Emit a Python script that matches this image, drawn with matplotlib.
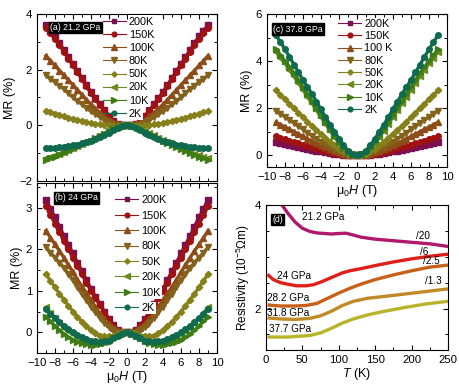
import matplotlib
matplotlib.use("Agg")
import matplotlib.pyplot as plt
from matplotlib.lines import Line2D
from matplotlib.ticker import MultipleLocator

plt.rcParams['font.family'] = ['Liberation Sans', 'DejaVu Sans']
plt.rcParams['mathtext.fontset'] = 'custom'
plt.rcParams['mathtext.rm'] = 'Liberation Sans'
plt.rcParams['mathtext.it'] = 'Liberation Sans:italic'
plt.rcParams['mathtext.default'] = 'regular'

# ---------------- data ----------------
H = [-9, -8.5, -8, -7.5, -7, -6.5, -6, -5.5, -5, -4.5, -4, -3.5, -3, -2.5, -2, -1.5, -1, -0.5, 0,
     0.5, 1, 1.5, 2, 2.5, 3, 3.5, 4, 4.5, 5, 5.5, 6, 6.5, 7, 7.5, 8, 8.5, 9]
temps = ['200K', '150K', '100K', '80K', '50K', '20K', '10K', '2K']
temps_c = ['200K', '150K', '100 K', '80K', '50K', '20K', '10K', '2K']
colors = ['#7a1050', '#a01212', '#8e4c18', '#84621c', '#86801a', '#6c8a22', '#3e7c14', '#0f6a4e']
markers = ['s', 'o', '^', 'v', 'D', '<', '>', 'o']
msizes = [3.8, 4.0, 4.4, 4.4, 3.2, 4.4, 4.4, 4.0]

# (a) 21.2 GPa
mr_a_200 = [3.6, 3.4, 3.2, 2.95, 2.7, 2.45, 2.2, 1.95, 1.7, 1.45, 1.2, 0.97, 0.75, 0.54, 0.35, 0.15, 0.05, 0.01, 0,
            0.01, 0.05, 0.15, 0.35, 0.54, 0.75, 0.97, 1.2, 1.45, 1.7, 1.95, 2.2, 2.45, 2.7, 2.95, 3.2, 3.4, 3.6]
mr_a_150 = [3.5, 3.3, 3.1, 2.88, 2.65, 2.4, 2.15, 1.9, 1.65, 1.4, 1.15, 0.93, 0.72, 0.52, 0.33, 0.15, 0.05, 0.01, 0,
            0.01, 0.05, 0.15, 0.33, 0.52, 0.72, 0.93, 1.15, 1.4, 1.65, 1.9, 2.15, 2.4, 2.65, 2.88, 3.1, 3.3, 3.5]
mr_a_100 = [2.5, 2.32, 2.15, 1.97, 1.8, 1.62, 1.45, 1.27, 1.1, 0.92, 0.75, 0.6, 0.45, 0.32, 0.2, 0.1, 0.03, 0.01, 0,
            0.01, 0.03, 0.1, 0.2, 0.32, 0.45, 0.6, 0.75, 0.92, 1.1, 1.27, 1.45, 1.62, 1.8, 1.97, 2.15, 2.32, 2.5]
mr_a_80 = [1.8, 1.67, 1.55, 1.42, 1.3, 1.15, 1.0, 0.87, 0.75, 0.62, 0.5, 0.4, 0.3, 0.2, 0.12, 0.06, 0.02, 0.0, 0,
           0.0, 0.02, 0.06, 0.12, 0.2, 0.3, 0.4, 0.5, 0.62, 0.75, 0.87, 1.0, 1.15, 1.3, 1.42, 1.55, 1.67, 1.8]
mr_a_50 = [0.52, 0.47, 0.42, 0.37, 0.32, 0.27, 0.23, 0.19, 0.15, 0.11, 0.08, 0.05, 0.03, 0.01, 0.0, -0.01, -0.02, -0.01, 0,
           -0.01, -0.02, -0.01, 0.0, 0.01, 0.03, 0.05, 0.08, 0.11, 0.15, 0.19, 0.23, 0.27, 0.32, 0.37, 0.42, 0.47, 0.52]
mr_a_20 = [-1.18, -1.13, -1.08, -1.02, -0.96, -0.89, -0.82, -0.75, -0.68, -0.6, -0.52, -0.44, -0.36, -0.28, -0.2, -0.12, -0.06, -0.02, 0,
           -0.02, -0.06, -0.12, -0.2, -0.28, -0.36, -0.44, -0.52, -0.6, -0.68, -0.75, -0.82, -0.89, -0.96, -1.02, -1.08, -1.13, -1.18]
mr_a_10 = [-1.24, -1.18, -1.12, -1.06, -1.0, -0.93, -0.86, -0.79, -0.71, -0.63, -0.55, -0.47, -0.38, -0.3, -0.21, -0.13, -0.06, -0.02, 0,
           -0.02, -0.06, -0.13, -0.21, -0.3, -0.38, -0.47, -0.55, -0.63, -0.71, -0.79, -0.86, -0.93, -1.0, -1.06, -1.12, -1.18, -1.24]
mr_a_2 = [-0.83, -0.82, -0.81, -0.79, -0.77, -0.75, -0.72, -0.69, -0.65, -0.6, -0.55, -0.49, -0.42, -0.34, -0.26, -0.17, -0.08, -0.02, 0,
          -0.02, -0.08, -0.17, -0.26, -0.34, -0.42, -0.49, -0.55, -0.6, -0.65, -0.69, -0.72, -0.75, -0.77, -0.79, -0.81, -0.82, -0.83]

# (b) 24 GPa
mr_b_200 = [3.2, 2.98, 2.77, 2.55, 2.32, 2.11, 1.9, 1.68, 1.47, 1.26, 1.05, 0.86, 0.68, 0.5, 0.32, 0.17, 0.05, 0.01, 0,
            0.01, 0.05, 0.17, 0.32, 0.5, 0.68, 0.86, 1.05, 1.26, 1.47, 1.68, 1.9, 2.11, 2.32, 2.55, 2.77, 2.98, 3.2]
mr_b_150 = [3.05, 2.83, 2.62, 2.41, 2.2, 2.0, 1.8, 1.6, 1.4, 1.2, 1.0, 0.82, 0.65, 0.47, 0.3, 0.16, 0.05, 0.01, 0,
            0.01, 0.05, 0.16, 0.3, 0.47, 0.65, 0.82, 1.0, 1.2, 1.4, 1.6, 1.8, 2.0, 2.2, 2.41, 2.62, 2.83, 3.05]
mr_b_100 = [2.45, 2.28, 2.12, 1.96, 1.8, 1.62, 1.45, 1.27, 1.1, 0.94, 0.78, 0.61, 0.45, 0.32, 0.2, 0.1, 0.03, 0.01, 0,
            0.01, 0.03, 0.1, 0.2, 0.32, 0.45, 0.61, 0.78, 0.94, 1.1, 1.27, 1.45, 1.62, 1.8, 1.96, 2.12, 2.28, 2.45]
mr_b_80 = [2.05, 1.92, 1.8, 1.68, 1.55, 1.4, 1.25, 1.08, 0.92, 0.77, 0.62, 0.48, 0.35, 0.23, 0.12, 0.05, 0.0, -0.01, 0,
           -0.01, 0.0, 0.05, 0.12, 0.23, 0.35, 0.48, 0.62, 0.77, 0.92, 1.08, 1.25, 1.4, 1.55, 1.68, 1.8, 1.92, 2.05]
mr_b_50 = [1.4, 1.24, 1.08, 0.93, 0.78, 0.64, 0.5, 0.37, 0.25, 0.15, 0.05, -0.02, -0.08, -0.1, -0.1, -0.08, -0.04, -0.02, 0,
           -0.02, -0.04, -0.08, -0.1, -0.1, -0.08, -0.02, 0.05, 0.15, 0.25, 0.37, 0.5, 0.64, 0.78, 0.93, 1.08, 1.24, 1.4]
mr_b_20 = [0.6, 0.47, 0.35, 0.22, 0.1, 0.02, -0.05, -0.12, -0.18, -0.22, -0.25, -0.26, -0.26, -0.23, -0.18, -0.12, -0.06, -0.02, 0,
           -0.02, -0.06, -0.12, -0.18, -0.23, -0.26, -0.26, -0.25, -0.22, -0.18, -0.12, -0.05, 0.02, 0.1, 0.22, 0.35, 0.47, 0.6]
mr_b_10 = [0.38, 0.26, 0.15, 0.05, -0.05, -0.12, -0.18, -0.23, -0.26, -0.29, -0.3, -0.3, -0.28, -0.25, -0.2, -0.14, -0.08, -0.03, 0,
           -0.03, -0.08, -0.14, -0.2, -0.25, -0.28, -0.3, -0.3, -0.29, -0.26, -0.23, -0.18, -0.12, -0.05, 0.05, 0.15, 0.26, 0.38]
mr_b_2 = [0.55, 0.45, 0.35, 0.25, 0.15, 0.07, 0.0, -0.06, -0.12, -0.17, -0.2, -0.22, -0.23, -0.22, -0.2, -0.15, -0.1, -0.04, 0,
          -0.04, -0.1, -0.15, -0.2, -0.22, -0.23, -0.22, -0.2, -0.17, -0.12, -0.06, 0.0, 0.07, 0.15, 0.25, 0.35, 0.45, 0.55]

# (c) 37.8 GPa
mr_c_200 = [0.55, 0.5, 0.46, 0.42, 0.38, 0.34, 0.3, 0.26, 0.23, 0.19, 0.16, 0.13, 0.1, 0.07, 0.05, 0.03, 0.01, 0.0, 0,
            0.0, 0.01, 0.03, 0.05, 0.07, 0.1, 0.13, 0.16, 0.19, 0.23, 0.26, 0.3, 0.34, 0.38, 0.42, 0.46, 0.5, 0.55]
mr_c_150 = [0.8, 0.74, 0.68, 0.62, 0.56, 0.5, 0.45, 0.39, 0.34, 0.29, 0.24, 0.19, 0.15, 0.11, 0.07, 0.04, 0.02, 0.0, 0,
            0.0, 0.02, 0.04, 0.07, 0.11, 0.15, 0.19, 0.24, 0.29, 0.34, 0.39, 0.45, 0.5, 0.56, 0.62, 0.68, 0.74, 0.8]
mr_c_100 = [1.4, 1.3, 1.2, 1.1, 1.0, 0.9, 0.8, 0.7, 0.6, 0.51, 0.42, 0.34, 0.26, 0.19, 0.12, 0.07, 0.03, 0.01, 0,
            0.01, 0.03, 0.07, 0.12, 0.19, 0.26, 0.34, 0.42, 0.51, 0.6, 0.7, 0.8, 0.9, 1.0, 1.1, 1.2, 1.3, 1.4]
mr_c_80 = [1.9, 1.76, 1.63, 1.5, 1.36, 1.23, 1.1, 0.96, 0.83, 0.7, 0.58, 0.47, 0.36, 0.26, 0.17, 0.1, 0.04, 0.01, 0,
           0.01, 0.04, 0.1, 0.17, 0.26, 0.36, 0.47, 0.58, 0.7, 0.83, 0.96, 1.1, 1.23, 1.36, 1.5, 1.63, 1.76, 1.9]
mr_c_50 = [2.75, 2.56, 2.38, 2.19, 2.0, 1.81, 1.62, 1.43, 1.25, 1.07, 0.9, 0.74, 0.58, 0.43, 0.28, 0.16, 0.07, 0.02, 0,
           0.02, 0.07, 0.16, 0.28, 0.43, 0.58, 0.74, 0.9, 1.07, 1.25, 1.43, 1.62, 1.81, 2.0, 2.19, 2.38, 2.56, 2.75]
mr_c_20 = [4.4, 4.15, 3.9, 3.62, 3.35, 3.06, 2.78, 2.49, 2.2, 1.91, 1.62, 1.33, 1.05, 0.78, 0.52, 0.3, 0.14, 0.04, 0,
           0.04, 0.14, 0.3, 0.52, 0.78, 1.05, 1.33, 1.62, 1.91, 2.2, 2.49, 2.78, 3.06, 3.35, 3.62, 3.9, 4.15, 4.4]
mr_c_10 = [4.5, 4.25, 4.0, 3.75, 3.5, 3.2, 2.9, 2.6, 2.3, 2.0, 1.7, 1.4, 1.1, 0.82, 0.55, 0.32, 0.15, 0.04, 0,
           0.04, 0.15, 0.32, 0.55, 0.82, 1.1, 1.4, 1.7, 2.0, 2.3, 2.6, 2.9, 3.2, 3.5, 3.75, 4.0, 4.25, 4.5]
mr_c_2 = [5.1, 4.8, 4.5, 4.18, 3.85, 3.52, 3.2, 2.9, 2.6, 2.28, 1.95, 1.62, 1.3, 1.0, 0.7, 0.42, 0.2, 0.06, 0,
          0.06, 0.2, 0.42, 0.7, 1.0, 1.3, 1.62, 1.95, 2.28, 2.6, 2.9, 3.2, 3.52, 3.85, 4.18, 4.5, 4.8, 5.1]

# (d) resistivity vs T
T_212 = [2, 10, 20, 30, 40, 50, 60, 70, 80, 90, 100, 110, 120, 130, 150, 175, 200, 225, 250]
rho_212 = [4.6, 4.35, 4.04, 3.84, 3.67, 3.55, 3.49, 3.46, 3.45, 3.44, 3.45, 3.455, 3.42, 3.38, 3.34, 3.31, 3.28, 3.25, 3.2]
T_24 = [2, 10, 20, 30, 42, 55, 65, 75, 85, 95, 105, 115, 130, 150, 175, 200, 225, 250]
rho_24 = [2.66, 2.56, 2.5, 2.47, 2.44, 2.44, 2.46, 2.51, 2.57, 2.63, 2.69, 2.73, 2.77, 2.83, 2.9, 2.96, 3.01, 3.05]
T_282 = [2, 20, 40, 55, 70, 85, 100, 115, 130, 150, 175, 200, 225, 250]
rho_282 = [2.07, 2.05, 2.05, 2.06, 2.1, 2.2, 2.3, 2.39, 2.47, 2.56, 2.65, 2.73, 2.8, 2.84]
T_318 = [2, 20, 40, 60, 75, 90, 105, 120, 140, 160, 190, 220, 250]
rho_318 = [1.82, 1.8, 1.79, 1.81, 1.86, 1.95, 2.06, 2.14, 2.2, 2.23, 2.28, 2.33, 2.38]
T_377 = [2, 30, 60, 75, 90, 105, 120, 140, 160, 190, 220, 250]
rho_377 = [1.45, 1.45, 1.48, 1.53, 1.62, 1.72, 1.8, 1.88, 1.94, 2.02, 2.09, 2.14]

series_a = [mr_a_200, mr_a_150, mr_a_100, mr_a_80, mr_a_50, mr_a_20, mr_a_10, mr_a_2]
series_b = [mr_b_200, mr_b_150, mr_b_100, mr_b_80, mr_b_50, mr_b_20, mr_b_10, mr_b_2]
series_c = [mr_c_200, mr_c_150, mr_c_100, mr_c_80, mr_c_50, mr_c_20, mr_c_10, mr_c_2]

# ---------------- figure ----------------
fig = plt.figure(figsize=(4.6, 3.91), dpi=100)
W, Hh = 460, 391


def mkax(l, r, t, b):
    return fig.add_axes([l / W, 1 - b / Hh, (r - l) / W, (b - t) / Hh])


axa = mkax(37, 217, 14, 181)
axb = mkax(37, 217, 183, 353)
axc = mkax(267, 447, 14, 167)
axd = mkax(266, 448, 205, 350)

TS = 8.2


def style(ax):
    ax.tick_params(which='both', direction='in', top=True, right=True, labelsize=TS)
    ax.tick_params(which='major', length=3.5, width=0.8)
    ax.tick_params(which='minor', length=2, width=0.7)
    for s in ax.spines.values():
        s.set_linewidth(0.8)


def mr_panel(ax, series, legend_labels, label, lab_xy, leg_anchor, spacing):
    for ys, c, m, ms in zip(series, colors, markers, msizes):
        ax.plot(H, ys, color=c, lw=2.4, marker=m, ms=ms, mec=c, mfc=c, zorder=3)
    handles = [Line2D([], [], color=c, lw=0.8, marker=m, ms=ms * 0.85, mec=c, mfc=c)
               for c, m, ms in zip(colors, markers, msizes)]
    leg = ax.legend(handles, legend_labels, loc='upper left', bbox_to_anchor=leg_anchor, frameon=False,
                    fontsize=7.8, handlelength=2.1, handletextpad=0.3, labelspacing=spacing,
                    borderpad=0.1, borderaxespad=0)
    for t in leg.get_texts():
        t.set_bbox(dict(boxstyle='square,pad=0.12', fc='white', ec='none'))
    leg.set_zorder(4)
    ax.text(lab_xy[0], lab_xy[1], label, transform=ax.transAxes, color='white', fontsize=6.3,
            va='top', ha='left', bbox=dict(boxstyle='square,pad=0.15', fc='black', ec='black'), zorder=5)
    ax.set_xlim(-10, 10)
    ax.xaxis.set_major_locator(MultipleLocator(2))
    ax.xaxis.set_minor_locator(MultipleLocator(1))
    ax.set_ylabel('MR (%)', fontsize=9, labelpad=2)
    style(ax)


mr_panel(axa, series_a, temps, '(a) 21.2 GPa', (0.075, 0.945), (0.36, 0.99), 0.29)
axa.set_ylim(-2, 4)
axa.yaxis.set_major_locator(MultipleLocator(2))
axa.yaxis.set_minor_locator(MultipleLocator(1))
axa.tick_params(labelbottom=False)

mr_panel(axb, series_b, temps, '(b) 24 GPa', (0.1, 0.94), (0.43, 0.935), 0.5)
axb.set_ylim(-0.5, 3.6)
axb.yaxis.set_major_locator(MultipleLocator(1))
axb.yaxis.set_minor_locator(MultipleLocator(0.5))
axb.set_xlabel(r'$\mu_0$$\mathit{H}$ (T)', fontsize=9, labelpad=1)

mr_panel(axc, series_c, temps_c, '(c) 37.8 GPa', (0.035, 0.93), (0.39, 0.975), 0.21)
axc.set_ylim(-0.5, 6)
axc.yaxis.set_major_locator(MultipleLocator(2))
axc.yaxis.set_minor_locator(MultipleLocator(1))
axc.set_xlabel(r'$\mu_0$$\mathit{H}$ (T)', fontsize=9, labelpad=1)

# (d)
dcols = ['#b0186c', '#e02018', '#c8601a', '#c08a28', '#b8b42a']
for T, r, c in zip([T_212, T_24, T_282, T_318, T_377], [rho_212, rho_24, rho_282, rho_318, rho_377], dcols):
    axd.plot(T, r, color=c, lw=2.4, solid_capstyle='butt', solid_joinstyle='round')
axd.set_xlim(0, 250)
axd.set_ylim(1.2, 4)
axd.xaxis.set_major_locator(MultipleLocator(50))
axd.xaxis.set_minor_locator(MultipleLocator(25))
axd.yaxis.set_major_locator(MultipleLocator(2))
axd.yaxis.set_minor_locator(MultipleLocator(0.5))
axd.set_xlabel(r'$\mathit{T}$ (K)', fontsize=9, labelpad=1)
axd.set_ylabel(r'Resistivity (10$^{-5}$$\Omega$m)', fontsize=8.5, labelpad=2)
style(axd)
fs = 7.2
axd.text(49, 3.76, '21.2 GPa', fontsize=fs, ha='left', va='center')
axd.text(206, 3.4, '/20', fontsize=fs, ha='left', va='center')
axd.text(15, 2.63, '24 GPa', fontsize=fs, ha='left', va='center')
axd.text(211, 3.1, '/6', fontsize=fs, ha='left', va='center')
axd.text(216, 2.92, '/2.5', fontsize=fs, ha='left', va='center')
axd.text(2, 2.2, '28.2 GPa', fontsize=fs, ha='left', va='center')
axd.text(218, 2.53, '/1.3', fontsize=fs, ha='left', va='center')
axd.text(2, 1.92, '31.8 GPa', fontsize=fs, ha='left', va='center')
axd.text(4, 1.6, '37.7 GPa', fontsize=fs, ha='left', va='center')
axd.text(0.035, 0.93, '(d)', transform=axd.transAxes, color='white', fontsize=6.3, va='top', ha='left',
         bbox=dict(boxstyle='square,pad=0.15', fc='black', ec='black'), zorder=5)

fig.savefig('out.png', dpi=100)
